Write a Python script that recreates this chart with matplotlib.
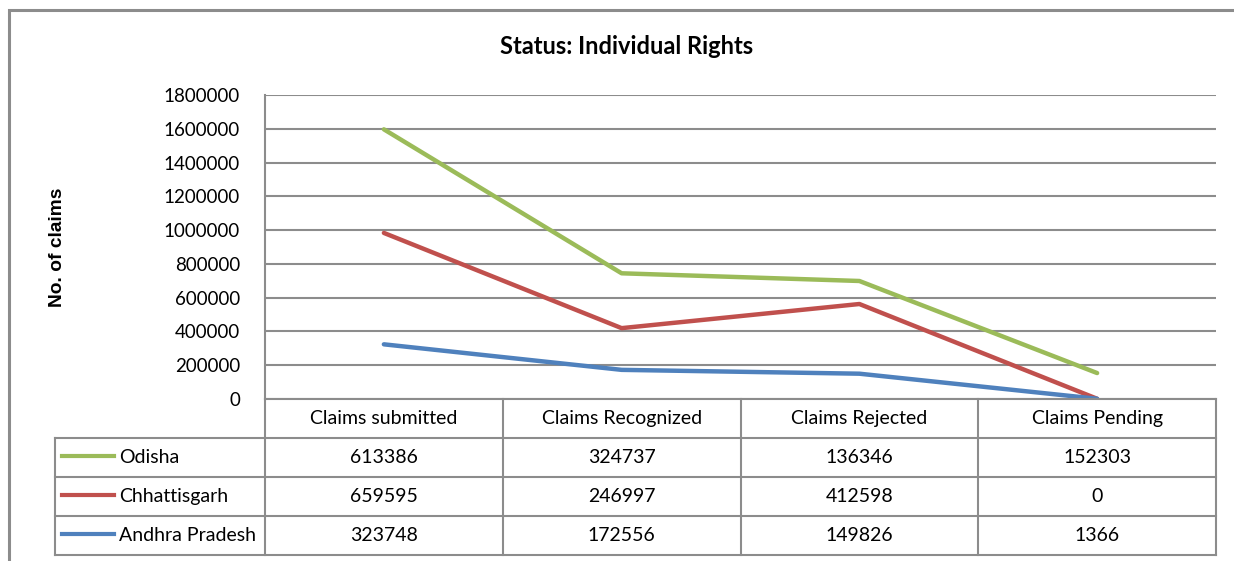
import numpy as np
import matplotlib
matplotlib.use('Agg')
import matplotlib.pyplot as plt
from matplotlib.patches import Rectangle

plt.rcParams['font.family'] = ['Lato', 'DejaVu Sans']

# data
categories = ['Claims submitted', 'Claims Recognized', 'Claims Rejected', 'Claims Pending']
states = ['Odisha', 'Chhattisgarh', 'Andhra Pradesh']
odisha = [613386, 324737, 136346, 152303]
chhattisgarh = [659595, 246997, 412598, 0]
andhra = [323748, 172556, 149826, 1366]
colors = ['#9BBB59', '#C0504D', '#4F81BD']

W, H = 1234, 561
fig = plt.figure(figsize=(W / 100, H / 100), dpi=100)

def fx(px):
    return px / W

def fy(py):
    return 1 - py / H

# outer chart border
fig.patches.append(Rectangle((fx(9), fy(600)), fx(1300), fy(10) - fy(600),
                             transform=fig.transFigure, fill=False,
                             edgecolor='#8c8c8c', linewidth=2.2))

left, right, top, bot = 265, 1216, 95, 399
ax = fig.add_axes([fx(left), fy(bot), fx(right - left), fy(top) - fy(bot)])

x = np.arange(len(categories))
# stacked line chart: andhra at bottom, then chhattisgarh, then odisha
s1 = np.array(andhra)
s2 = s1 + np.array(chhattisgarh)
s3 = s2 + np.array(odisha)
ax.plot(x, s3, color=colors[0], lw=3.2, solid_capstyle='round', zorder=3)
ax.plot(x, s2, color=colors[1], lw=3.2, solid_capstyle='round', zorder=3)
ax.plot(x, s1, color=colors[2], lw=3.2, solid_capstyle='round', zorder=3)

ax.set_xlim(-0.5, 3.5)
ax.set_ylim(0, 1800000)
ax.set_yticks(np.arange(0, 1800001, 200000))
ax.set_yticklabels([str(v) for v in range(0, 1800001, 200000)], fontsize=13.5)
ax.yaxis.grid(True, color='#8c8c8c', lw=1.5)
ax.set_axisbelow(True)
ax.set_xticks([])
ax.tick_params(axis='y', length=0, pad=18)
for s in ['top', 'right', 'bottom']:
    ax.spines[s].set_visible(False)
ax.spines['left'].set_color('#8c8c8c')
ax.spines['left'].set_linewidth(1.5)

# data table below the plot
tleft, tbot = 55, 555
span = (right - left) / 4
xmin = -0.5 - (left - tleft) / span
tax = fig.add_axes([fx(tleft), fy(tbot), fx(right - tleft), fy(bot) - fy(tbot)])
tax.set_xlim(xmin, 3.5)
tax.set_ylim(4, 0)
tax.axis('off')
gc = '#8c8c8c'
tax.plot([-0.5, 3.5], [0, 0], color=gc, lw=1.5, clip_on=False)
for i in range(5):
    tax.plot([i - 0.5, i - 0.5], [0, 4], color=gc, lw=1.5, clip_on=False)
for j in range(1, 5):
    tax.plot([xmin, 3.5], [j, j], color=gc, lw=1.5, clip_on=False)
tax.plot([xmin, xmin], [1, 4], color=gc, lw=1.5, clip_on=False)

for i, c in enumerate(categories):
    tax.text(i, 0.5, c, ha='center', va='center', fontsize=14)
rows = [odisha, chhattisgarh, andhra]
for j, (name, vals) in enumerate(zip(states, rows)):
    yy = j + 1.5
    tax.plot([xmin + 0.03, xmin + 0.25], [yy - 0.04, yy - 0.04], color=colors[j], lw=3, clip_on=False)
    tax.text(xmin + 0.27, yy, name, ha='left', va='center', fontsize=14)
    for i, v in enumerate(vals):
        tax.text(i, yy, str(v), ha='center', va='center', fontsize=14)

fig.text(fx(627), fy(46), 'Status: Individual Rights', ha='center', va='center',
         fontsize=17, fontweight='bold')
fig.text(fx(57), fy(247), 'No. of claims', ha='center', va='center', rotation=90,
         fontsize=13.8, fontweight='bold', family=['Liberation Sans', 'DejaVu Sans'])

fig.savefig('out.png', dpi=100)
